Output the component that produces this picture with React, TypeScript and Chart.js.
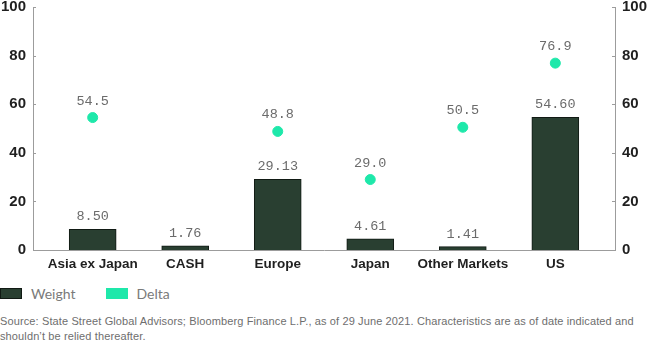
import React, { useEffect, useRef } from "react";
import { Chart, registerables } from "chart.js";

Chart.register(...registerables);

const categories = ["Asia ex Japan", "CASH", "Europe", "Japan", "Other Markets", "US"];
const weightValues = [8.5, 1.76, 29.13, 4.61, 1.41, 54.6];
const deltaValues = [54.5, null, 48.8, 29.0, 50.5, 76.9];
const yTicks = [0, 20, 40, 60, 80, 100];

const BAR_COLOR = "#293f31";
const DELTA_COLOR = "#1ee8aa";
const AXIS_COLOR = "#9c9c9c";

const valueLabels = {
  id: "valueLabels",
  afterDatasetsDraw(chart: any) {
    const ctx = chart.ctx;
    ctx.save();
    ctx.font = "13.5px 'Liberation Mono', 'DejaVu Sans Mono', monospace";
    ctx.fillStyle = "#6b6b6b";
    ctx.textAlign = "center";
    ctx.textBaseline = "middle";
    chart.data.datasets.forEach((ds: any, di: number) => {
      const meta = chart.getDatasetMeta(di);
      meta.data.forEach((el: any, i: number) => {
        const raw = ds.data[i];
        if (!raw || raw.y == null) return;
        if (ds.type === "bar") {
          ctx.fillText(raw.y.toFixed(2), el.x, el.y - 12.5);
        } else {
          ctx.fillText(raw.y.toFixed(1), el.x, el.y - 16.5);
        }
      });
    });
    ctx.restore();
  },
};

// small inward tick marks on both value axes
const innerTicks = {
  id: "innerTicks",
  afterDraw(chart: any) {
    const ctx = chart.ctx;
    ctx.save();
    ctx.strokeStyle = AXIS_COLOR;
    ctx.lineWidth = 1;
    ["y", "y1"].forEach((id) => {
      const s = chart.scales[id];
      if (!s) return;
      const xEdge = id === "y" ? s.right : s.left;
      const dir = id === "y" ? 1 : -1;
      s.ticks.forEach((t: any) => {
        if (t.value === 0) return;
        const py = Math.round(s.getPixelForValue(t.value)) + 0.5;
        ctx.beginPath();
        ctx.moveTo(xEdge, py);
        ctx.lineTo(xEdge + dir * 3, py);
        ctx.stroke();
      });
    });
    ctx.restore();
  },
};

export default function App() {
  const canvasRef = useRef<HTMLCanvasElement | null>(null);

  useEffect(() => {
    document.body.style.margin = "0";
    const canvas = canvasRef.current;
    if (!canvas) return;
    const xFont = { family: "'Liberation Sans', Arial, sans-serif", size: 13.5, weight: "bold" as const };
    const yFont = { family: "'Liberation Sans', Arial, sans-serif", size: 15, weight: "bold" as const };
    const noGrid = { display: false, drawTicks: false, tickLength: 0 };
    const fitY = (w: number) => (scale: any) => {
      scale.width = w;
      scale.paddingTop = 7;
      scale.paddingBottom = 0;
    };
    const chart = new Chart(canvas, {
      type: "bar",
      data: {
        datasets: [
          {
            type: "bar",
            label: "Weight",
            data: weightValues.map((v, i) => ({ x: i, y: v })),
            backgroundColor: BAR_COLOR,
            borderColor: "#111a14",
            borderWidth: 1,
            barThickness: 47,
            yAxisID: "y",
            order: 2,
          } as any,
          {
            type: "scatter",
            label: "Delta",
            data: deltaValues
              .map((v, i) => (v == null ? null : { x: i, y: v }))
              .filter((d) => d !== null),
            backgroundColor: DELTA_COLOR,
            borderColor: DELTA_COLOR,
            pointRadius: 5,
            pointHoverRadius: 5,
            yAxisID: "y1",
            order: 1,
          } as any,
        ],
      },
      options: {
        animation: false,
        responsive: false,
        maintainAspectRatio: false,
        layout: { padding: { top: 0, left: 0, right: 0, bottom: 0 } },
        plugins: {
          legend: { display: false },
          tooltip: { enabled: false },
        },
        scales: {
          x: {
            type: "linear",
            min: -0.645,
            max: 5.645,
            offset: false,
            grid: noGrid,
            border: { display: true, color: AXIS_COLOR, width: 1 },
            afterBuildTicks: (scale: any) => {
              scale.ticks = categories.map((_, i) => ({ value: i }));
            },
            afterFit: (scale: any) => {
              scale.height = 30;
            },
            ticks: {
              autoSkip: false,
              maxRotation: 0,
              padding: 6,
              color: "#1f1f1f",
              font: xFont,
              callback: (v: any) => categories[v as number] ?? "",
            },
          },
          y: {
            position: "left",
            min: 0,
            max: 100,
            afterBuildTicks: (scale: any) => {
              scale.ticks = yTicks.map((v) => ({ value: v }));
            },
            afterFit: fitY(33),
            grid: noGrid,
            border: { display: true, color: AXIS_COLOR, width: 1 },
            ticks: { padding: 7, color: "#1f1f1f", font: yFont },
          },
          y1: {
            position: "right",
            min: 0,
            max: 100,
            afterBuildTicks: (scale: any) => {
              scale.ticks = yTicks.map((v) => ({ value: v }));
            },
            afterFit: fitY(35),
            grid: noGrid,
            border: { display: true, color: AXIS_COLOR, width: 1 },
            ticks: { padding: 7, color: "#1f1f1f", font: yFont },
          },
        },
      },
      plugins: [valueLabels, innerTicks],
    });
    return () => chart.destroy();
  }, []);

  const legendText: React.CSSProperties = {
    fontFamily: "Lato, 'Liberation Sans', Arial, sans-serif",
    fontSize: 14,
    color: "#7a7a7a",
  };

  return (
    <div style={{ position: "relative", width: 650, height: 346, background: "#fff", overflow: "hidden" }}>
      <canvas ref={canvasRef} width={650} height={280} style={{ display: "block", width: 650, height: 280 }} />
      <div style={{ position: "absolute", left: 0, top: 283, height: 20, display: "flex", alignItems: "center" }}>
        <span style={{ display: "inline-block", width: 20, height: 9, background: BAR_COLOR, border: "1px solid #111a14" }} />
        <span style={{ ...legendText, marginLeft: 9 }}>Weight</span>
        <span style={{ display: "inline-block", width: 22, height: 11, background: DELTA_COLOR, marginLeft: 31 }} />
        <span style={{ ...legendText, marginLeft: 8 }}>Delta</span>
      </div>
      <div
        style={{
          position: "absolute",
          left: 0,
          top: 314,
          width: 648,
          fontFamily: "'Liberation Sans', Arial, sans-serif",
          fontSize: 11,
          letterSpacing: "0.12px",
          lineHeight: "15px",
          color: "#6e6e6e",
        }}
      >
        Source: State Street Global Advisors; Bloomberg Finance L.P., as of 29 June 2021. Characteristics are as of date indicated and shouldn’t be relied thereafter.
      </div>
    </div>
  );
}
